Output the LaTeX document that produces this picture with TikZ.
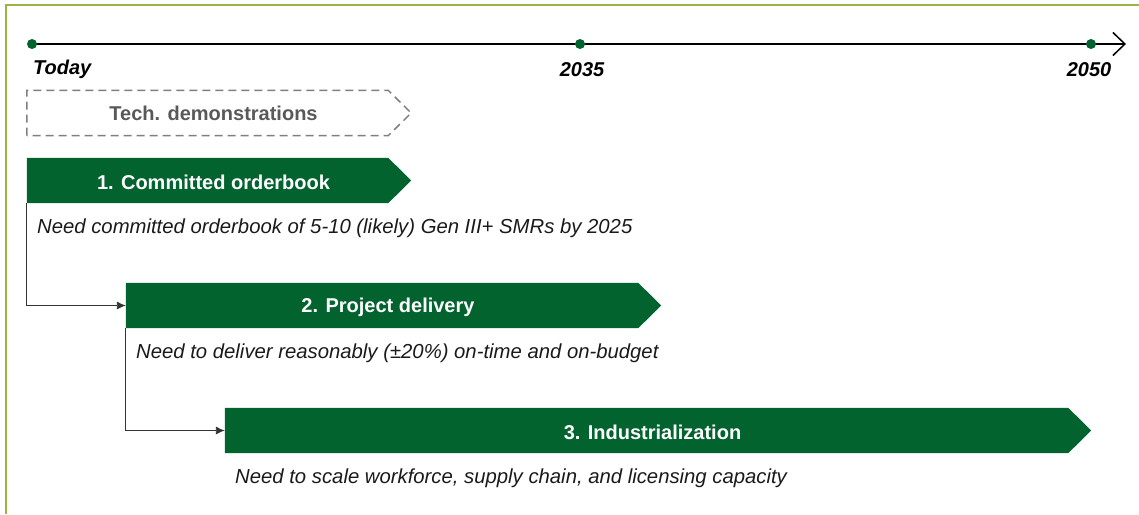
\documentclass[tikz,border=0pt]{standalone}
\usepackage{fontspec}
\setmainfont{Liberation Sans}
\usetikzlibrary{arrows.meta,calc,backgrounds}
\definecolor{leaf}{HTML}{03632F}
\definecolor{frameolive}{HTML}{9AB640}
\definecolor{dashgray}{HTML}{7F7F7F}
\definecolor{labelgray}{HTML}{595959}
\definecolor{ink}{HTML}{1A1A1A}
\tikzset{
  yearlabel/.style={font=\fontsize{20}{24}\selectfont\bfseries\itshape, text=black, inner sep=0pt},
  tickdot/.style={circle, fill=leaf, minimum size=10pt, inner sep=0pt},
  phasebox/.style={minimum height=45pt, inner sep=0pt, text=white,
    font=\fontsize{20}{24}\selectfont\bfseries},
  demobox/.style={minimum height=45pt, inner sep=0pt, text=labelgray,
    font=\fontsize{20}{24}\selectfont\bfseries},
  note/.style={anchor=west, inner sep=0pt, text=ink,
    font=\fontsize{20.3}{24}\selectfont\itshape},
  link/.style={draw=black!80, line width=0.9pt, -{Latex[length=9pt,width=8pt]}},
}
\begin{document}
\begin{tikzpicture}[x=1pt,y=-1pt]
\useasboundingbox (0,0) rectangle (1139,514);
% frame
\draw[frameolive, line width=2pt] (6,514) -- (6,5) -- (1139,5);

% timeline
\node[tickdot] (t0) at (32,44) {};
\node[tickdot] (t1) at (580,44) {};
\node[tickdot] (t2) at (1091,44) {};
\coordinate (tend) at (1126,44);
\begin{scope}[on background layer]
\draw[line width=1.8pt, -{Straight Barb[length=12pt,width=23pt,line width=1.5pt]}] (t0.center) -- (tend);
\end{scope}
\node[yearlabel, anchor=west] (lt0) at (33,69) {Today};
\node[yearlabel] (lt1) at (582,70) {2035};
\node[yearlabel] (lt2) at (1089,70) {2050};

% technology demonstrations (dashed)
\node[demobox, minimum width=361pt] (b0) at (207.5,113) {};
\draw[dashgray, line width=1.5pt, dash pattern=on 8pt off 5pt]
  (b0.south west) -- (b0.north west) -- (b0.north east) -- ($(b0.east)+(23,0)$) -- (b0.south east) -- cycle;
\node[demobox] at ($(b0.center)+(6,0.5)$) {Tech. demonstrations};

% phase 1
\node[phasebox, minimum width=361pt] (b1) at (207.5,180.5) {};
\fill[leaf] (b1.south west) -- (b1.north west) -- (b1.north east) -- ($(b1.east)+(23,0)$) -- (b1.south east) -- cycle;
\node[phasebox] at ($(b1.center)+(6,1.5)$) {1. Committed orderbook};
\node[note] (n1) at (37,228.5) {Need committed orderbook of 5-10 (likely) Gen III+ SMRs by 2025};

% phase 2
\node[phasebox, minimum width=512pt] (b2) at (382,305.5) {};
\fill[leaf] (b2.south west) -- (b2.north west) -- (b2.north east) -- ($(b2.east)+(23,0)$) -- (b2.south east) -- cycle;
\node[phasebox] at ($(b2.center)+(6,1.5)$) {2. Project delivery};
\node[note] (n2) at (136,353.5) {Need to deliver reasonably (±20\%) on-time and on-budget};

% phase 3
\node[phasebox, minimum width=843pt] (b3) at (646.5,430.5) {};
\fill[leaf] (b3.south west) -- (b3.north west) -- (b3.north east) -- ($(b3.east)+(23,0)$) -- (b3.south east) -- cycle;
\node[phasebox] at ($(b3.center)+(6,1.5)$) {3. Industrialization};
\node[note] (n3) at (235,478.5) {Need to scale workforce, supply chain, and licensing capacity};

% hand-offs between phases
\draw[link] (b1.south west) |- (b2.west);
\draw[link] (b2.south west) |- (b3.west);
\end{tikzpicture}
\end{document}
